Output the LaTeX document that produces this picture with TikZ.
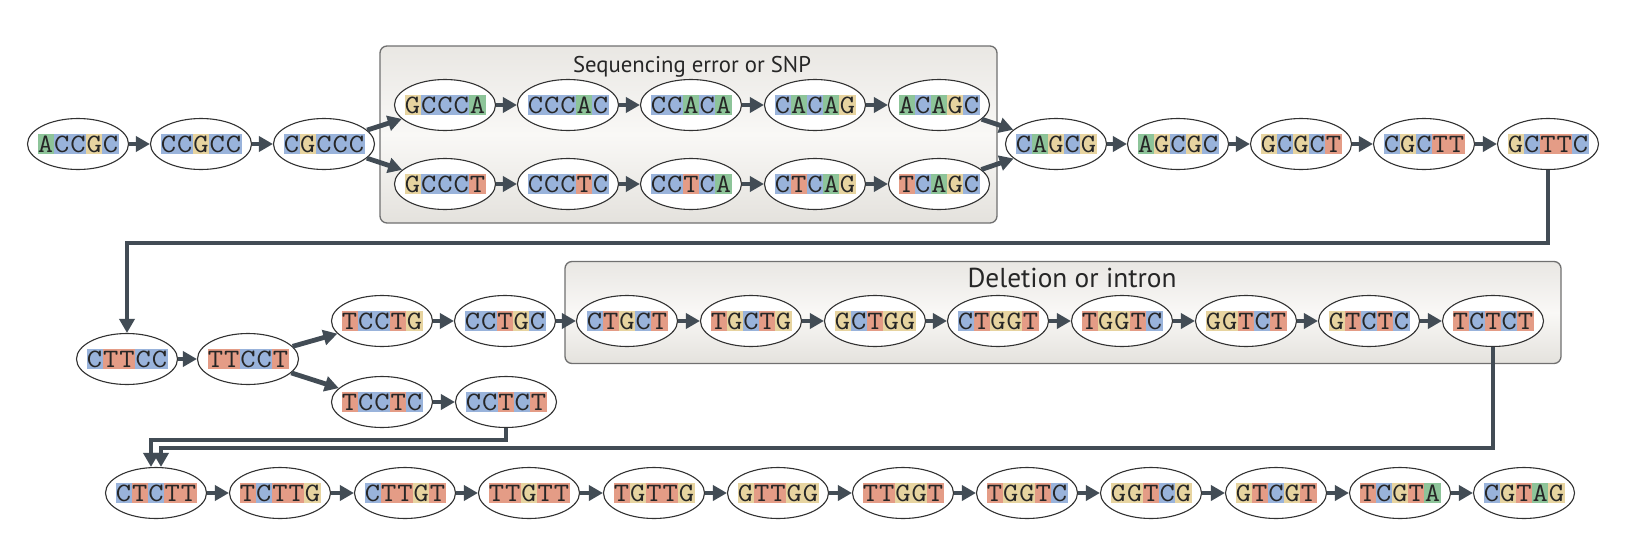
\documentclass[tikz,border=0pt]{standalone}
\usepackage{fontspec}
\setsansfont{PT Sans}
\usepackage{graphicx}
\usetikzlibrary{arrows.meta,shapes.geometric}
\definecolor{cA}{RGB}{141,196,153}
\definecolor{cC}{RGB}{153,179,219}
\definecolor{cG}{RGB}{231,212,160}
\definecolor{cT}{RGB}{228,156,134}
\definecolor{arr}{RGB}{66,76,85}
\definecolor{ink}{RGB}{38,38,38}
\definecolor{rim}{RGB}{50,50,50}
\definecolor{panelrim}{RGB}{112,112,112}
\definecolor{ptop}{RGB}{233,231,227}
\definecolor{pmid}{RGB}{249,248,246}
\definecolor{pbot}{RGB}{228,226,221}
\setlength{\fboxsep}{0pt}
\newcommand\basebox[1]{\colorbox{c#1}{\makebox[16.2pt]{\rule[-2.2pt]{0pt}{20.5pt}\scalebox{1.12}[1]{#1}}}}
\def\seqloop#1{\ifx\relax#1\else\basebox{#1}\expandafter\seqloop\fi}
\newcommand\seqtext[1]{\makebox[0pt]{\fontsize{26.5}{26.5}\selectfont\ttfamily\color{ink}\seqloop#1\relax}}
\tikzset{
  kmer/.style={ellipse, draw=rim, line width=1.1pt, fill=white, minimum width=101pt, minimum height=51pt, inner sep=0pt},
  conn/.style={draw=arr, line width=4.8pt, -{Triangle[length=14pt,width=15pt]}},
  panel/.style={draw=panelrim, line width=1.3pt, rounded corners=7pt, top color=ptop, bottom color=pbot, middle color=pmid},
  paneltitle/.style={anchor=base, font=\sffamily, text=ink, inner sep=0pt}
}
\begin{document}
\begin{tikzpicture}[x=1pt,y=-1pt]
\fill[white] (0,0) rectangle (1626,544);
\useasboundingbox (0,0) rectangle (1626,544);
% panels
\node[panel, minimum width=617pt, minimum height=177pt] (box1) at (688.5,134.5) {};
\node[panel, minimum width=996pt, minimum height=102pt] (box2) at (1063,312.5) {};
\node[paneltitle] (t1) at (692,72) {\resizebox{238pt}{!}{\fontsize{22}{22}\selectfont Sequencing error or SNP}};
\node[paneltitle] (t2) at (1072,287) {\resizebox{209pt}{!}{\fontsize{22}{22}\selectfont Deletion or intron}};
% row 1
\node[kmer] (n1) at (78,144) {\seqtext{ACCGC}};
\node[kmer] (n2) at (201,144) {\seqtext{CCGCC}};
\node[kmer] (n3) at (324,144) {\seqtext{CGCCC}};
\node[kmer] (u1) at (445,105) {\seqtext{GCCCA}};
\node[kmer] (u2) at (568,105) {\seqtext{CCCAC}};
\node[kmer] (u3) at (691,105) {\seqtext{CCACA}};
\node[kmer] (u4) at (815,105) {\seqtext{CACAG}};
\node[kmer] (u5) at (939,105) {\seqtext{ACAGC}};
\node[kmer] (l1) at (445,184) {\seqtext{GCCCT}};
\node[kmer] (l2) at (568,184) {\seqtext{CCCTC}};
\node[kmer] (l3) at (691,184) {\seqtext{CCTCA}};
\node[kmer] (l4) at (815,184) {\seqtext{CTCAG}};
\node[kmer] (l5) at (939,184) {\seqtext{TCAGC}};
\node[kmer] (m1) at (1056,144) {\seqtext{CAGCG}};
\node[kmer] (m2) at (1178,144) {\seqtext{AGCGC}};
\node[kmer] (m3) at (1301,144) {\seqtext{GCGCT}};
\node[kmer] (m4) at (1424,144) {\seqtext{CGCTT}};
\node[kmer] (m5) at (1548,144) {\seqtext{GCTTC}};
% row 2
\node[kmer] (r1) at (127,359) {\seqtext{CTTCC}};
\node[kmer] (r2) at (248,359) {\seqtext{TTCCT}};
\node[kmer] (p1) at (382,321) {\seqtext{TCCTG}};
\node[kmer] (p2) at (505,321) {\seqtext{CCTGC}};
\node[kmer] (q1) at (627,321) {\seqtext{CTGCT}};
\node[kmer] (q2) at (751,321) {\seqtext{TGCTG}};
\node[kmer] (q3) at (875,321) {\seqtext{GCTGG}};
\node[kmer] (q4) at (998,321) {\seqtext{CTGGT}};
\node[kmer] (q5) at (1122,321) {\seqtext{TGGTC}};
\node[kmer] (q6) at (1246,321) {\seqtext{GGTCT}};
\node[kmer] (q7) at (1369,321) {\seqtext{GTCTC}};
\node[kmer] (q8) at (1493,321) {\seqtext{TCTCT}};
\node[kmer] (s1) at (382,402) {\seqtext{TCCTC}};
\node[kmer] (s2) at (506,402) {\seqtext{CCTCT}};
% row 3
\node[kmer] (c1) at (156,493) {\seqtext{CTCTT}};
\node[kmer] (c2) at (280,493) {\seqtext{TCTTG}};
\node[kmer] (c3) at (405,493) {\seqtext{CTTGT}};
\node[kmer] (c4) at (529,493) {\seqtext{TTGTT}};
\node[kmer] (c5) at (654,493) {\seqtext{TGTTG}};
\node[kmer] (c6) at (778,493) {\seqtext{GTTGG}};
\node[kmer] (c7) at (903,493) {\seqtext{TTGGT}};
\node[kmer] (c8) at (1027,493) {\seqtext{TGGTC}};
\node[kmer] (c9) at (1151,493) {\seqtext{GGTCG}};
\node[kmer] (c10) at (1276,493) {\seqtext{GTCGT}};
\node[kmer] (c11) at (1400,493) {\seqtext{TCGTA}};
\node[kmer] (c12) at (1524,493) {\seqtext{CGTAG}};
% connectors row 1
\draw[conn] (n1) -- (n2);
\draw[conn] (n2) -- (n3);
\draw[conn] (n3) -- (u1);
\draw[conn] (n3) -- (l1);
\draw[conn] (u1) -- (u2);
\draw[conn] (u2) -- (u3);
\draw[conn] (u3) -- (u4);
\draw[conn] (u4) -- (u5);
\draw[conn] (l1) -- (l2);
\draw[conn] (l2) -- (l3);
\draw[conn] (l3) -- (l4);
\draw[conn] (l4) -- (l5);
\draw[conn] (u5) -- (m1);
\draw[conn] (l5) -- (m1);
\draw[conn] (m1) -- (m2);
\draw[conn] (m2) -- (m3);
\draw[conn] (m3) -- (m4);
\draw[conn] (m4) -- (m5);
% wrap 1 -> 2
\coordinate (k1) at (1548,243);
\coordinate (k2) at (127,243);
\draw[conn] (m5.south) -- (k1) -- (k2) -- (r1.north);
% connectors row 2
\draw[conn] (r1) -- (r2);
\draw[conn] (r2) -- (p1);
\draw[conn] (r2) -- (s1);
\draw[conn] (p1) -- (p2);
\draw[conn] (p2) -- (q1);
\draw[conn] (q1) -- (q2);
\draw[conn] (q2) -- (q3);
\draw[conn] (q3) -- (q4);
\draw[conn] (q4) -- (q5);
\draw[conn] (q5) -- (q6);
\draw[conn] (q6) -- (q7);
\draw[conn] (q7) -- (q8);
\draw[conn] (s1) -- (s2);
% wrap 2 -> 3
\coordinate (a1) at (506,440);
\coordinate (a2) at (151,440);
\draw[conn] (s2.south) -- (a1) -- (a2) -- (a2 |- c1.north);
\coordinate (b1) at (1493,448);
\coordinate (b2) at (161,448);
\draw[conn] (q8.south) -- (b1) -- (b2) -- (b2 |- c1.north);
% connectors row 3
\draw[conn] (c1) -- (c2);
\draw[conn] (c2) -- (c3);
\draw[conn] (c3) -- (c4);
\draw[conn] (c4) -- (c5);
\draw[conn] (c5) -- (c6);
\draw[conn] (c6) -- (c7);
\draw[conn] (c7) -- (c8);
\draw[conn] (c8) -- (c9);
\draw[conn] (c9) -- (c10);
\draw[conn] (c10) -- (c11);
\draw[conn] (c11) -- (c12);
\end{tikzpicture}
\end{document}
